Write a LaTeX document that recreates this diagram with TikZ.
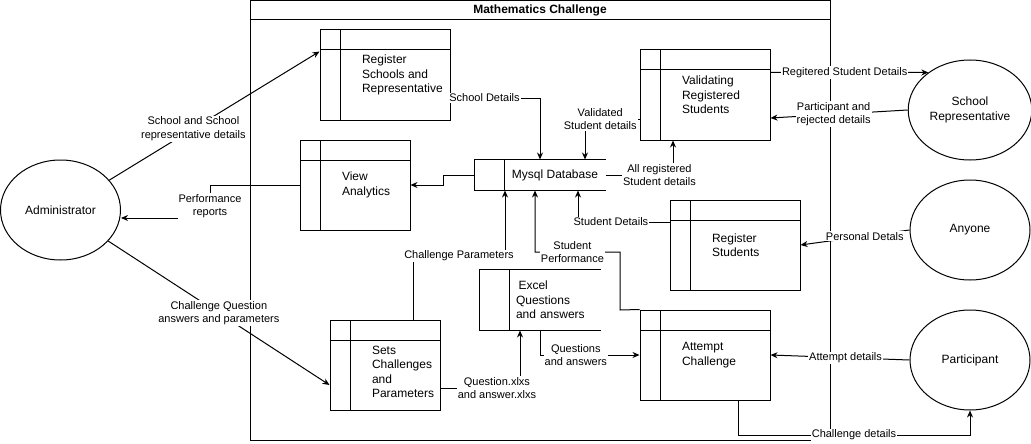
\documentclass[tikz,border=0pt]{standalone}
\usepackage{fontspec}
\setmainfont{Liberation Sans}
\usetikzlibrary{arrows.meta,shapes.geometric}

\begin{document}
\begin{tikzpicture}
  [x=1pt, y=-1pt, line width=1pt,
   proc/.style={draw, minimum width=130pt, minimum height=90pt, inner sep=0pt,
     path picture={\draw ([xshift=20pt]path picture bounding box.north west) -- ([xshift=20pt]path picture bounding box.south west)
       ([yshift=-20pt]path picture bounding box.north west) -- ([yshift=-20pt]path picture bounding box.north east);}},
   ptxt/.style={anchor=west, align=left, inner sep=0pt, font=\fontsize{12}{14.5}\selectfont},
   store/.style={minimum height=30pt, inner sep=0pt, font=\fontsize{12}{14.5}\selectfont},
   actor/.style={draw, ellipse, minimum width=120pt, minimum height=100pt, align=center, font=\fontsize{12}{14.5}\selectfont},
   lbl/.style={fill=white, inner sep=1pt, align=center, font=\fontsize{11}{13.5}\selectfont},
   flow/.style={-{Stealth[length=7pt,width=6pt]}}]
  \useasboundingbox (0,0) rectangle (1031,444);

  % system boundary
  \draw (250,0.5) rectangle (830,440);
  \draw (250,20) -- (830,20);
  \node[font=\bfseries\fontsize{12}{14}\selectfont] (title) at (540,10) {Mathematics Challenge};

  % processes
  \node[proc] (rsch) at (385,75) {};
  \node[proc, minimum width=110pt] (view) at (355,185) {};
  \node[proc] (valid) at (705,95) {};
  \node[proc] (regs) at (735,245) {};
  \node[proc, minimum width=110pt] (sets) at (385,365) {};
  \node[proc] (att) at (705,355) {};
  \node[ptxt] (rscht) at ([xshift=42pt]rsch.west) {Register\\Schools and\\Representative};
  \node[ptxt] (viewt) at ([xshift=42pt]view.west) {View\\Analytics};
  \node[ptxt] (validt) at ([xshift=42pt]valid.west) {Validating\\Registered\\Students};
  \node[ptxt] (regst) at ([xshift=42pt]regs.west) {Register\\Students};
  \node[ptxt] (setst) at ([xshift=42pt,yshift=-7pt]sets.west) {Sets\\Challenges\\and\\Parameters};
  \node[ptxt] (attt) at ([xshift=42pt]att.west) {Attempt\\Challenge};

  % data stores
  \node[store, minimum width=100pt] (db) at (555,175) {Mysql Database};
  \draw (db.north east) -- ([xshift=-30pt]db.north west) -- ([xshift=-30pt]db.south west) -- (db.south east)
        (db.north west) -- (db.south west);
  \node[store, minimum width=90pt, minimum height=60pt, text width=78pt, inner xsep=6pt, align=left] (xls) at (555,300)
        {\hspace*{2.5pt}Excel\\Questions\\and answers};
  \draw (xls.north east) -- ([xshift=-30pt]xls.north west) -- ([xshift=-30pt]xls.south west) -- (xls.south east)
        (xls.north west) -- (xls.south west);

  % external entities
  \node[actor] (adm) at (60.5,210) {Administrator};
  \node[actor] (srep) at (970,110) {School\\Representative};
  \node[actor] (anyo) at (970,230) {Anyone};
  \node[actor] (part) at (970,360) {\raisebox{-5pt}{Participant}};

  % data flows
  \draw[flow] (adm) -- node[lbl, pos=0.4] (l1) {School and School\\representative details} ([yshift=-22pt]rsch.north west);
  \draw[flow] (view.west) -| node[lbl, pos=0.82] (l2) {Performance\\reports} (210,218) -- ([yshift=-8pt]adm.east);
  \draw[flow] ([xshift=-30pt]db.west) -- (443,175) |- (view.east);
  \draw[flow] ([yshift=-23pt]rsch.east) -| node[lbl, pos=0.19] (l4) {School Details} (540,0 |- db.north);
  \draw[flow] ([yshift=-24pt]valid.west) -| node[lbl, pos=0.36] (l5) {Validated\\Student details} (585,0 |- db.north);
  \draw[flow] (db.east) -| node[lbl, pos=0.4] (l6) {All registered\\Student details} (673,0 |- valid.south);
  \draw[flow] ([yshift=-23pt]valid.north east) -- node[lbl, pos=0.47] (l7) {Regitered Student Details} (srep.138);
  \draw[flow] (srep.west) -- node[lbl, pos=0.54] (l8) {Participant and\\rejected details} ([yshift=-23pt]valid.east);
  \draw[flow] ([yshift=23pt]regs.west) -| node[lbl, pos=0.32] (l9) {Student Details} (578,0 |- db.south);
  \draw[flow] (anyo.west) -- node[lbl, pos=0.41] (l10) {Personal Detals} (regs.east);
  \draw[flow] (413,0 |- sets.north) -- (413,256) -- node[lbl] (l11) {Challenge Parameters} (505,256) -- (505,0 |- db.south);
  \draw[flow] (att.north west) -- (620,310) -- (620,252) -- node[lbl, pos=0.56] (l12) {Student\\Performance} (535,252) -- (535,0 |- db.south);
  \draw[flow] (540,0 |- xls.south) |- node[lbl, pos=0.68] (l13) {Questions\\and answers} (att.west);
  \draw[flow] ([yshift=-23pt]sets.east) -| node[lbl, pos=0.355] (l14) {Question.xlxs\\and answer.xlxs} (520,0 |- xls.south);
  \draw[flow] (adm) -- node[lbl, pos=0.5] (l15) {Challenge Question\\answers and parameters} ([yshift=-20pt]sets.west);
  \draw[flow] (738,0 |- att.south) |- node[lbl, pos=0.75] (l16) {Challenge details} (part.south |- 0,435) -- (part.south);
  \draw[flow] (part.west) -- node[lbl, pos=0.46] (l17) {Attempt details} (att.east);
\end{tikzpicture}
\end{document}
